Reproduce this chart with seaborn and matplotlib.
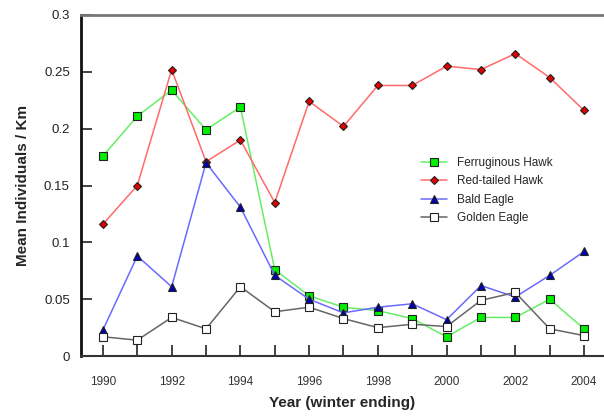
import numpy as np
import pandas as pd
import matplotlib
matplotlib.use("Agg")
import matplotlib.pyplot as plt
import seaborn as sns

# ---- data ----
years = list(range(1990, 2005))
ferruginous = [0.176, 0.211, 0.234, 0.199, 0.219, 0.076, 0.053, 0.043, 0.040, 0.033, 0.017, 0.034, 0.034, 0.050, 0.024]
red_tailed = [0.116, 0.150, 0.252, 0.171, 0.190, 0.135, 0.224, 0.202, 0.238, 0.238, 0.255, 0.252, 0.266, 0.245, 0.216]
bald = [0.023, 0.088, 0.061, 0.170, 0.131, 0.071, 0.050, 0.038, 0.043, 0.046, 0.032, 0.062, 0.052, 0.071, 0.092]
golden = [0.017, 0.014, 0.034, 0.024, 0.061, 0.039, 0.043, 0.033, 0.025, 0.028, 0.026, 0.049, 0.056, 0.024, 0.018]

series_names = ["Ferruginous Hawk", "Red-tailed Hawk", "Bald Eagle", "Golden Eagle"]
yticks = [0, 0.05, 0.1, 0.15, 0.2, 0.25, 0.3]
ytick_labels = ["0", "0.05", "0.1", "0.15", "0.2", "0.25", "0.3"]
xtick_labels = [str(y) if y % 2 == 0 else "" for y in years]

df = pd.DataFrame({
    "year": years * 4,
    "value": ferruginous + red_tailed + bald + golden,
    "species": sum([[n] * len(years) for n in series_names], []),
})

# line colour, marker, face colour, size
styles = {
    "Ferruginous Hawk": ("#66ee66", "s", "#00ee00", 6),
    "Red-tailed Hawk": ("#ff6a6a", "D", "#e00000", 4.5),
    "Bald Eagle": ("#6a6aff", "^", "#0000b0", 6),
    "Golden Eagle": ("#666666", "s", "white", 6),
}

sns.set_style("white")
plt.rcParams["font.family"] = ["Liberation Sans", "DejaVu Sans"]

fig = plt.figure(figsize=(6.04, 4.16), dpi=100)
ax = fig.add_axes([0.134, 0.144, 0.866, 0.820])

for name in series_names:
    lc, mk, fc, ms = styles[name]
    sns.lineplot(data=df[df["species"] == name], x="year", y="value", ax=ax,
                 color=lc, marker=mk, markerfacecolor=fc, markeredgecolor="#222222",
                 markeredgewidth=0.8, markersize=ms, linewidth=1.1, label=name)

ax.set_xlim(1989.36, 2004.58)
ax.set_ylim(0, 0.3)
ax.set_xticks(years)
ax.set_xticklabels(xtick_labels, fontsize=8.5, color="#333333")
ax.set_yticks(yticks)
ax.set_yticklabels(ytick_labels, fontsize=9.5, color="#222222")
ax.tick_params(bottom=True, left=True, direction="in", length=8, width=1.2,
               color="#222222", pad=14)
ax.tick_params(axis="y", pad=8)

ax.spines["right"].set_visible(False)
ax.spines["left"].set_linewidth(2)
ax.spines["left"].set_color("#111111")
ax.spines["bottom"].set_linewidth(1.5)
ax.spines["bottom"].set_color("#333333")
ax.spines["top"].set_linewidth(2)
ax.spines["top"].set_color("#777777")

ax.set_xlabel("Year (winter ending)", fontsize=11, fontweight="bold", labelpad=6)
ax.set_ylabel("Mean Individuals / Km", fontsize=11, fontweight="bold", labelpad=10)

ax.legend(frameon=False, loc="upper left", bbox_to_anchor=(0.63, 0.615),
          fontsize=8.5, handlelength=2.2, labelspacing=0.55)

fig.savefig("out.png", dpi=100)
